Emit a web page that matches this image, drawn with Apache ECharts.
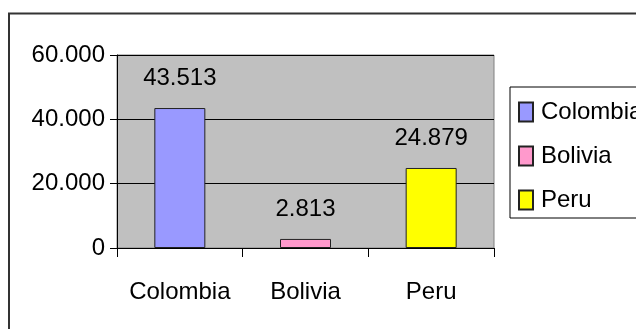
<!DOCTYPE html>
<html>
<head>
<meta charset="utf-8">
<script src="https://cdn.jsdelivr.net/npm/echarts@6/dist/echarts.min.js"></script>
<style>
  html, body { margin: 0; padding: 0; background: #fff; }
  #chart { width: 636px; height: 329px; }
</style>
</head>
<body>
<div id="chart"></div>
<script>
// Countries and their values
const countries = ['Colombia', 'Bolivia', 'Peru'];
const values = [43513, 2813, 24879];
const colors = ['#9999ff', '#ff99cc', '#ffff00'];

// Value axis
const yMin = 0;
const yMax = 60000;
const yStep = 20000;

const FONT = "'Liberation Sans', Arial, sans-serif";
const FS = 24;

// Number with dot as thousands separator
function fmt(v) {
  return String(Math.round(v)).replace(/\B(?=(\d{3})+(?!\d))/g, '.');
}

const series = countries.map((name, i) => ({
  name: name,
  type: 'bar',
  stack: 'all',
  barWidth: 51,
  data: countries.map((c, j) => (j === i ? values[i] : null)),
  itemStyle: { color: colors[i], borderColor: '#222', borderWidth: 1 },
  label: {
    show: true,
    position: 'top',
    distance: 18,
    color: '#000',
    fontFamily: FONT,
    fontSize: FS,
    formatter: p => fmt(p.value)
  }
}));

const chart = echarts.init(document.getElementById('chart'), null, { renderer: 'canvas' });
chart.setOption({
  animation: false,
  backgroundColor: '#fff',
  grid: {
    left: 117, right: 142, top: 55, bottom: 81,
    show: true,
    backgroundColor: '#c0c0c0',
    borderColor: '#808080',
    borderWidth: 1
  },
  legend: {
    orient: 'vertical',
    left: 510,
    top: 87,
    data: countries,
    icon: 'rect',
    itemWidth: 14,
    itemHeight: 19,
    itemGap: 20,
    padding: [13, 120, 6, 8],
    borderColor: '#000',
    borderWidth: 1,
    backgroundColor: '#fff',
    textStyle: { color: '#000', fontFamily: FONT, fontSize: FS, lineHeight: 24, padding: [0, 0, 0, 3] }
  },
  xAxis: {
    type: 'category',
    data: countries,
    axisLine: { show: true, lineStyle: { color: '#000', width: 1 } },
    axisTick: { show: true, length: 9, lineStyle: { color: '#000' } },
    axisLabel: { color: '#000', fontFamily: FONT, fontSize: FS, margin: 32, interval: 0 },
    splitLine: { show: false }
  },
  yAxis: {
    type: 'value',
    min: yMin,
    max: yMax,
    interval: yStep,
    axisLine: { show: true, lineStyle: { color: '#000', width: 1 } },
    axisTick: { show: true, length: 7, lineStyle: { color: '#000' } },
    axisLabel: { color: '#000', fontFamily: FONT, fontSize: FS, margin: 12, formatter: fmt },
    splitLine: { show: true, lineStyle: { color: '#000', width: 1 } }
  },
  graphic: [{
    type: 'rect',
    shape: { x: 9, y: 13.5, width: 700, height: 400 },
    style: { fill: null, stroke: '#333', lineWidth: 2 },
    silent: true,
    z: 100
  }],
  series: series
});
</script>
</body>
</html>
